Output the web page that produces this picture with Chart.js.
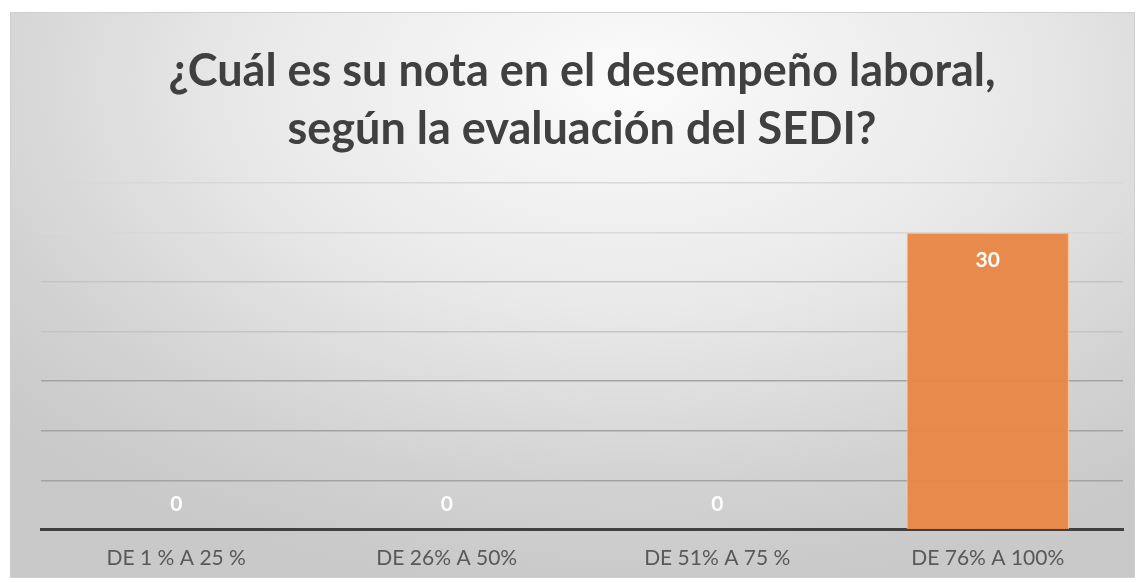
<!DOCTYPE html>
<html>
<head>
<meta charset="utf-8">
<script src="https://cdn.jsdelivr.net/npm/chart.js@4/dist/chart.umd.min.js"></script>
<style>
  html, body { margin: 0; padding: 0; background: #fff; }
  #wrap {
    position: absolute; left: 10px; top: 12px; width: 1125px; height: 566px;
    border: 1px solid #d0d0d0; box-sizing: border-box;
    background: radial-gradient(ellipse 75% 90% at 55% 12%, #fbfbfb 0%, #e9e9e9 45%, #d2d2d2 80%, #c9c9c9 100%);
  }
</style>
</head>
<body>
<div id="wrap"><canvas id="grafico"></canvas></div>
<script>
var categorias = ['DE 1 % A 25 %', 'DE 26% A 50%', 'DE 51% A 75 %', 'DE 76% A 100%'];
var valores = [0, 0, 0, 30];
var titulo = ['¿Cuál es su nota en el desempeño laboral,', 'según la evaluación del SEDI?'];

// etiquetas blancas dentro de las barras
var etiquetas = {
    id: 'etiquetas',
    afterDatasetsDraw: function (chart) {
        var c = chart.ctx;
        var meta = chart.getDatasetMeta(0);
        c.save();
        c.fillStyle = '#ffffff';
        c.font = 'bold 21px Lato';
        c.textAlign = 'center';
        c.textBaseline = 'middle';
        meta.data.forEach(function (bar, i) {
            var v = valores[i];
            var y = v > 0 ? bar.y + 28 : bar.base - 26;
            c.fillText(String(v), bar.x, y);
        });
        c.restore();
    }
};

var ctx = document.getElementById('grafico').getContext('2d');
var grafico = new Chart(ctx, {
    type: 'bar',
    data: {
        labels: categorias,
        datasets: [{
            data: valores,
            backgroundColor: 'rgba(233, 135, 72, 0.97)',
            borderColor: '#f6c49f',
            borderWidth: 1,
            borderSkipped: 'bottom',
            barPercentage: 1,
            categoryPercentage: 0.6
        }]
    },
    options: {
        responsive: true,
        maintainAspectRatio: false,
        animation: false,
        layout: { padding: { top: 29, left: 30, right: 11, bottom: -10 } },
        plugins: {
            legend: { display: false },
            tooltip: { enabled: false },
            title: {
                display: true,
                text: titulo,
                color: '#404040',
                font: { family: 'Lato', size: 45, weight: 'bold', lineHeight: 1.29 },
                padding: { top: 0, bottom: 25 }
            }
        },
        scales: {
            x: {
                grid: { display: false, drawTicks: false },
                border: { display: true, color: '#404040', width: 3 },
                ticks: {
                    color: '#595959',
                    font: { family: 'Lato', size: 21 },
                    padding: 16
                }
            },
            y: {
                min: 0,
                max: 35,
                ticks: { display: false, stepSize: 5 },
                border: { display: false },
                grid: {
                    drawTicks: false,
                    lineWidth: 1.5,
                    color: function (c) {
                        var v = c.tick.value;
                        if (v === 0) return 'rgba(0,0,0,0)';
                        if (v >= 30) return '#d8d8d8';
                        if (v >= 20) return '#c4c4c4';
                        return '#a3a3a3';
                    }
                }
            }
        }
    },
    plugins: [etiquetas]
});
</script>
</body>
</html>
